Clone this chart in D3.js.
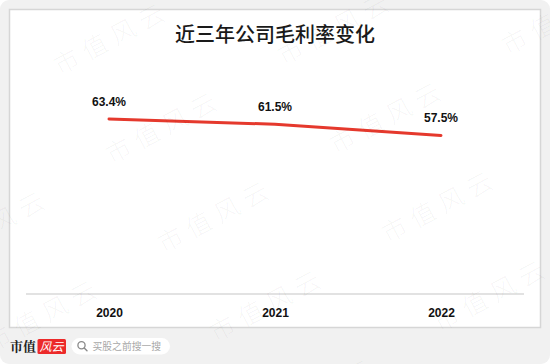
<!DOCTYPE html>
<html>
<head>
<meta charset="utf-8">
<script src="https://cdn.jsdelivr.net/npm/d3@7/dist/d3.min.js"></script>
<style>
  html, body { margin: 0; padding: 0; background: #ffffff; }
  svg { display: block; }
</style>
</head>
<body>
<script>
// ---- data ----
const title = "近三年公司毛利率变化";
const categories = ["2020", "2021", "2022"];
const grossMargin = [63.4, 61.5, 57.5];
const valueLabels = ["63.4%", "61.5%", "57.5%"];
const watermarkText = "市值风云";
const brandText = "市值";
const brandTag = "风云";
const searchHint = "买股之前搜一搜";

const W = 550, H = 364;
const svg = d3.select("body").append("svg").attr("width", W).attr("height", H);

const clip = svg.append("defs").append("clipPath").attr("id", "page");
clip.append("rect").attr("x", 0).attr("y", 0).attr("width", W).attr("height", H);

// outer gray background
svg.append("rect").attr("x", 0).attr("y", 0).attr("width", W).attr("height", H)
  .attr("rx", 9).attr("fill", "#f1f1f1");

// white chart panel
svg.append("rect").attr("x", 9.5).attr("y", 9.5).attr("width", 531).attr("height", 318)
  .attr("fill", "#ffffff").attr("stroke", "#d6d6d6").attr("stroke-width", 1.5);

// scales
const x = d3.scalePoint().domain(categories).range([26, 524]).padding(0.5);
const y = d3.scaleLinear().domain([0.8, 64]).range([294, 117.3]);

// title
svg.append("text").attr("x", 275).attr("y", 42).attr("text-anchor", "middle")
  .attr("font-family", "'Noto Sans CJK SC', sans-serif").attr("font-size", 20)
  .attr("font-weight", 500).attr("fill", "#1a1a1a").text(title);

// x axis
const xAxis = svg.append("g").attr("transform", "translate(0,294)")
  .call(d3.axisBottom(x).tickSize(0).tickPadding(14));
xAxis.select(".domain").attr("stroke", "#d9d9d9").attr("stroke-width", 1.5)
  .attr("d", "M26,0H524");
xAxis.selectAll("text").attr("font-family", "'Liberation Sans', Arial, sans-serif")
  .attr("font-size", 12).attr("font-weight", "bold").attr("fill", "#111");

// line
const pts = categories.map((c, i) => ({ c, v: grossMargin[i], label: valueLabels[i] }));
svg.append("path").datum(pts)
  .attr("fill", "none").attr("stroke", "#e5392d").attr("stroke-width", 3)
  .attr("stroke-linecap", "round")
  .attr("d", d3.line().x(d => x(d.c)).y(d => y(d.v)));

// data labels
svg.append("g").selectAll("text").data(pts).join("text")
  .attr("x", d => x(d.c)).attr("y", d => y(d.v) - 13)
  .attr("text-anchor", "middle")
  .attr("font-family", "'Liberation Sans', Arial, sans-serif")
  .attr("font-size", 12).attr("font-weight", "bold").attr("fill", "#111")
  .text(d => d.label);

// watermarks (decorative lattice)
const wm = svg.append("g").attr("pointer-events", "none").attr("clip-path", "url(#page)");
for (let j = -3; j <= 4; j++) {
  for (let i = -2; i <= 3; i++) {
    const cx = 163 + i * 224 + j * 52;
    const cy = 125 - i * 10 + j * 89;
    if (cx < -120 || cx > W + 120 || cy < -60 || cy > H + 60) continue;
    wm.append("text").attr("x", 0).attr("y", 0)
      .attr("transform", `translate(${cx},${cy}) rotate(-28)`)
      .attr("text-anchor", "middle").attr("dominant-baseline", "central")
      .attr("font-family", "'Noto Sans CJK SC', sans-serif")
      .attr("font-size", 25).attr("font-weight", 300)
      .attr("letter-spacing", 7)
      .attr("fill", "#000").attr("fill-opacity", 0.045)
      .text(watermarkText);
  }
}

// footer brand
svg.append("text").attr("x", 10).attr("y", 351)
  .attr("font-family", "'Noto Serif CJK SC', 'Noto Sans CJK SC', serif")
  .attr("font-size", 13).attr("font-weight", "bold").attr("fill", "#222").text(brandText);
svg.append("rect").attr("x", 37.5).attr("y", 339).attr("width", 28.5).attr("height", 15)
  .attr("rx", 1.5).attr("fill", "#ec2a2a");
svg.append("text").attr("x", 51.5).attr("y", 351).attr("text-anchor", "middle")
  .attr("font-family", "'Noto Sans CJK SC', sans-serif").attr("font-size", 12)
  .attr("font-style", "italic").attr("fill", "#fff").text(brandTag);

// search pill
svg.append("rect").attr("x", 71.5).attr("y", 338).attr("width", 98.5).attr("height", 16.5)
  .attr("rx", 8.25).attr("fill", "#ffffff");
svg.append("circle").attr("cx", 81.5).attr("cy", 345.3).attr("r", 3.6)
  .attr("fill", "none").attr("stroke", "#8a8a8a").attr("stroke-width", 1.3);
svg.append("line").attr("x1", 84.2).attr("y1", 348).attr("x2", 87).attr("y2", 350.8)
  .attr("stroke", "#8a8a8a").attr("stroke-width", 1.4).attr("stroke-linecap", "round");
svg.append("text").attr("x", 92.5).attr("y", 349.8)
  .attr("font-family", "'Noto Sans CJK SC', sans-serif").attr("font-size", 9.8)
  .attr("fill", "#a8a8a8").text(searchHint);
</script>
</body>
</html>
